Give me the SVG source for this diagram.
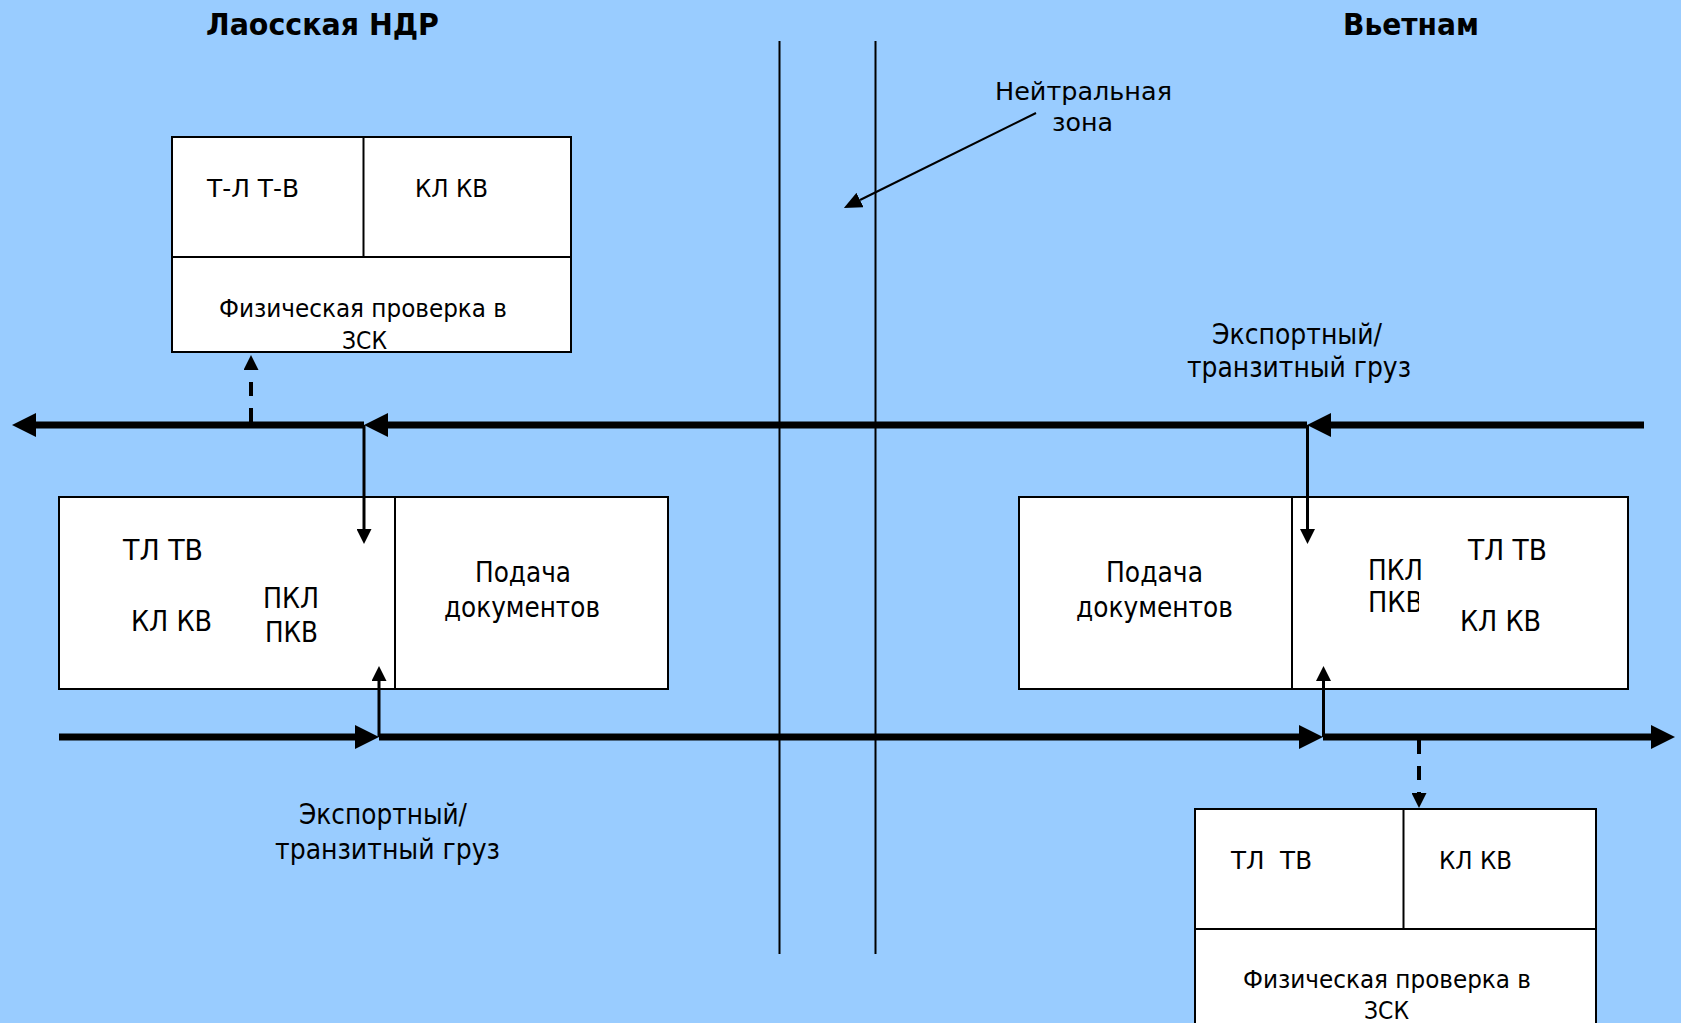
<svg xmlns="http://www.w3.org/2000/svg" width="1681" height="1023" viewBox="0 0 1681 1023">
<style>
.t{font-family:"DejaVu Sans","Liberation Sans",sans-serif;fill:#000}
.s25{font-size:25px}
.s28{font-size:28px}
.ttl{font-family:"DejaVu Sans","Liberation Sans",sans-serif;font-weight:bold;font-size:30px}
.box{fill:#fff;stroke:#000;stroke-width:2}
.div{stroke:#000;stroke-width:2;fill:none}
.thick{stroke:#000;stroke-width:7;fill:none}
.thin{stroke:#000;stroke-width:3;fill:none}
.dash{stroke:#000;stroke-width:4;fill:none;stroke-dasharray:14 12}
.zone{stroke:#000;stroke-width:2}
</style>
<defs>
<marker id="big" markerUnits="userSpaceOnUse" markerWidth="24" markerHeight="24" refX="0" refY="12" orient="auto"><path d="M0,0 L24,12 L0,24 z" fill="#000"/></marker>
<marker id="small" markerUnits="userSpaceOnUse" markerWidth="15" markerHeight="15" refX="0" refY="7.5" orient="auto"><path d="M0,0 L15,7.5 L0,15 z" fill="#000"/></marker>
<marker id="nz" markerUnits="userSpaceOnUse" markerWidth="18" markerHeight="16" refX="0" refY="8" orient="auto"><path d="M0,0 L18,8 L0,16 z" fill="#000"/></marker>
<clipPath id="clipPKV"><rect x="1300" y="585" width="119" height="40"/></clipPath>
</defs>
<rect x="0" y="0" width="1681" height="1023" fill="#99CCFF"/>

<g id="titles">
<text class="ttl" x="206" y="35" textLength="233" lengthAdjust="spacingAndGlyphs">Лаосская НДР</text>
<text class="ttl" x="1343" y="35" textLength="136" lengthAdjust="spacingAndGlyphs">Вьетнам</text>
</g>

<g id="neutral-zone">
<line class="zone" x1="779.5" y1="41" x2="779.5" y2="954"/>
<line class="zone" x1="875.5" y1="41" x2="875.5" y2="954"/>
<text class="t s25" x="995" y="100" textLength="177" lengthAdjust="spacingAndGlyphs">Нейтральная</text>
<text class="t s25" x="1052" y="131" textLength="61" lengthAdjust="spacingAndGlyphs">зона</text>
</g>

<g id="node-laos-zsk">
<rect class="box" x="172" y="137" width="399" height="215"/>
<line class="div" x1="363.5" y1="137" x2="363.5" y2="257"/>
<line class="div" x1="172" y1="257" x2="571" y2="257"/>
<text class="t s25" x="207" y="197" textLength="92" lengthAdjust="spacingAndGlyphs">Т-Л Т-В</text>
<text class="t s25" x="415" y="197" textLength="73" lengthAdjust="spacingAndGlyphs">КЛ КВ</text>
<text class="t s25" x="219" y="317" textLength="288" lengthAdjust="spacingAndGlyphs">Физическая проверка в</text>
<text class="t s25" x="342" y="349" textLength="45" lengthAdjust="spacingAndGlyphs">ЗСК</text>
</g>

<g id="node-laos-post">
<rect class="box" x="59" y="497" width="609" height="192"/>
<line class="div" x1="395" y1="497" x2="395" y2="689"/>
<text class="t s28" x="123" y="560" textLength="80" lengthAdjust="spacingAndGlyphs">ТЛ ТВ</text>
<text class="t s28" x="131" y="631" textLength="81" lengthAdjust="spacingAndGlyphs">КЛ КВ</text>
<text class="t s28" x="263" y="608" textLength="56" lengthAdjust="spacingAndGlyphs">ПКЛ</text>
<text class="t s28" x="265" y="642" textLength="53" lengthAdjust="spacingAndGlyphs">ПКВ</text>
<text class="t s28" x="475" y="582" textLength="96" lengthAdjust="spacingAndGlyphs">Подача</text>
<text class="t s28" x="444" y="617" textLength="156" lengthAdjust="spacingAndGlyphs">документов</text>
</g>

<g id="node-vn-post">
<rect class="box" x="1019" y="497" width="609" height="192"/>
<line class="div" x1="1292" y1="497" x2="1292" y2="689"/>
<text class="t s28" x="1106" y="582" textLength="97" lengthAdjust="spacingAndGlyphs">Подача</text>
<text class="t s28" x="1076" y="617" textLength="157" lengthAdjust="spacingAndGlyphs">документов</text>
<text class="t s28" x="1368" y="580" textLength="55" lengthAdjust="spacingAndGlyphs">ПКЛ</text>
<text class="t s28" x="1368" y="612" textLength="55" lengthAdjust="spacingAndGlyphs" clip-path="url(#clipPKV)">ПКВ</text>
<text class="t s28" x="1468" y="560" textLength="79" lengthAdjust="spacingAndGlyphs">ТЛ ТВ</text>
<text class="t s28" x="1460" y="631" textLength="81" lengthAdjust="spacingAndGlyphs">КЛ КВ</text>
</g>

<g id="node-vn-zsk">
<rect class="box" x="1195" y="809" width="401" height="230"/>
<line class="div" x1="1403.5" y1="809" x2="1403.5" y2="929"/>
<line class="div" x1="1195" y1="929" x2="1596" y2="929"/>
<text class="t s25" x="1231" y="869" textLength="81" lengthAdjust="spacingAndGlyphs">ТЛ&#160;&#160;ТВ</text>
<text class="t s25" x="1439" y="869" textLength="73" lengthAdjust="spacingAndGlyphs">КЛ КВ</text>
<text class="t s25" x="1243" y="988" textLength="288" lengthAdjust="spacingAndGlyphs">Физическая проверка в</text>
<text class="t s25" x="1364" y="1019" textLength="45" lengthAdjust="spacingAndGlyphs">ЗСК</text>
</g>

<g id="labels">
<text class="t s28" x="1212" y="344" textLength="170" lengthAdjust="spacingAndGlyphs">Экспортный/</text>
<text class="t s28" x="1187" y="377" textLength="224" lengthAdjust="spacingAndGlyphs">транзитный груз</text>
<text class="t s28" x="299" y="824" textLength="168" lengthAdjust="spacingAndGlyphs">Экспортный/</text>
<text class="t s28" x="275" y="859" textLength="225" lengthAdjust="spacingAndGlyphs">транзитный груз</text>
</g>

<g id="connectors">
<path class="thick" d="M1644,425 L1331,425" marker-end="url(#big)"/>
<path class="thick" d="M1307,425 L388,425" marker-end="url(#big)"/>
<path class="thick" d="M364,425 L36,425" marker-end="url(#big)"/>
<path class="thick" d="M59,737 L355,737" marker-end="url(#big)"/>
<path class="thick" d="M379,737 L1299,737" marker-end="url(#big)"/>
<path class="thick" d="M1323,737 L1651,737" marker-end="url(#big)"/>
<path class="thin" d="M364,425 L364,529" marker-end="url(#small)"/>
<path class="thin" d="M1307.5,425 L1307.5,529" marker-end="url(#small)"/>
<path class="thin" d="M379,737 L379,681" marker-end="url(#small)"/>
<path class="thin" d="M1323.5,737 L1323.5,681" marker-end="url(#small)"/>
<path class="dash" d="M251,422 L251,370" marker-end="url(#small)"/>
<path class="dash" d="M1419,740 L1419,793" marker-end="url(#small)"/>
<path class="div" d="M1036,113 L860,200" marker-end="url(#nz)"/>
</g>
</svg>
